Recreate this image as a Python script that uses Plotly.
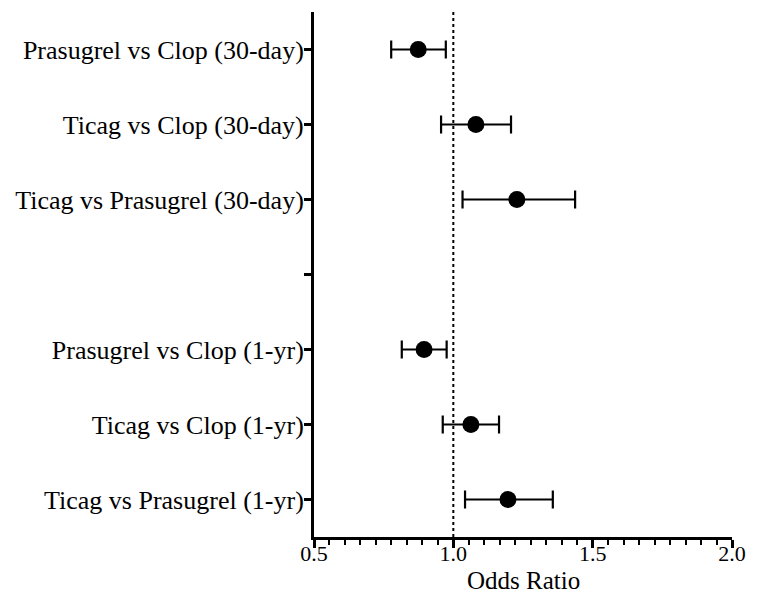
import plotly.graph_objects as go

labels = [
    "Prasugrel vs Clop (30-day)",
    "Ticag vs Clop (30-day)",
    "Ticag vs Prasugrel (30-day)",
    " ",
    "Prasugrel vs Clop (1-yr)",
    "Ticag vs Clop (1-yr)",
    "Ticag vs Prasugrel (1-yr)",
]
odds_ratio = [0.874, 1.081, 1.228, None, 0.895, 1.063, 1.196]
ci_low = [0.777, 0.956, 1.033, None, 0.815, 0.962, 1.042]
ci_high = [0.973, 1.207, 1.437, None, 0.976, 1.164, 1.357]
x_ticks = [0.5, 1.0, 1.5, 2.0]
x_tick_text = ["0.5", "1.0", "1.5", "2.0"]
x_title = "Odds Ratio"

err_plus = [(h - o) if o is not None else None for o, h in zip(odds_ratio, ci_high)]
err_minus = [(o - l) if o is not None else None for o, l in zip(odds_ratio, ci_low)]

FONT = "Liberation Serif, Times New Roman, serif"

fig = go.Figure()
fig.add_trace(go.Scatter(
    x=odds_ratio, y=labels, mode="markers",
    marker=dict(size=17, color="black", symbol="circle"),
    error_x=dict(type="data", symmetric=False, array=err_plus, arrayminus=err_minus,
                 color="black", thickness=2.2, width=9),
    showlegend=False,
))

fig.add_shape(type="line", x0=1.0, x1=1.0, y0=0, y1=1, xref="x", yref="paper",
              line=dict(color="black", width=2, dash="dot"), layer="below")

fig.add_annotation(text=x_title, x=0.5, y=0, xref="paper", yref="paper",
                   xanchor="center", yanchor="middle", yshift=-43, showarrow=False,
                   font=dict(size=25, family=FONT, color="black"))

fig.update_layout(
    width=750, height=593,
    margin=dict(l=306, r=26, t=4, b=64, autoexpand=False),
    paper_bgcolor="white", plot_bgcolor="white",
    font=dict(family=FONT, color="black"),
    xaxis=dict(
        range=[0.5, 2.0], tickvals=x_ticks, ticktext=x_tick_text, automargin=False,
        showgrid=False, zeroline=False, showline=True, linecolor="black", linewidth=3,
        ticks="outside", ticklen=8, tickwidth=2.5, tickcolor="black",
        ticklabelstandoff=-13,
        tickfont=dict(size=22, family=FONT, color="black"),
        minor=dict(dtick=0.5 / 9, tick0=0.5, ticks="outside", ticklen=5, tickwidth=2,
                   tickcolor="black", showgrid=False),
    ),
    yaxis=dict(
        type="category", categoryorder="array", categoryarray=labels,
        range=[6.5, -0.5], automargin=False,
        showgrid=False, zeroline=False, showline=True, linecolor="black", linewidth=3,
        ticks="outside", ticklen=7, tickwidth=2.5, tickcolor="black",
        ticklabelstandoff=-5,
        tickfont=dict(size=26, family=FONT, color="black"),
    ),
)

fig.write_html("out.html")
